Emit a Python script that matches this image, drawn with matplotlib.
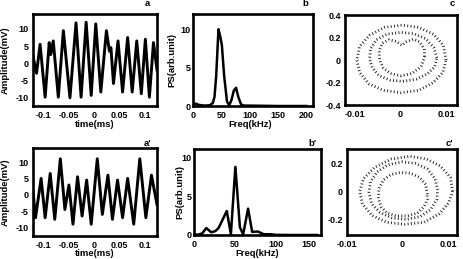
import matplotlib
matplotlib.use('Agg')
import matplotlib.pyplot as plt

# ---------------- data ----------------
# panel a: time series extrema (ms, mV)
t_a = [-0.121, -0.114, -0.107, -0.097, -0.089, -0.086, -0.081, -0.071, -0.061,
       -0.048, -0.036, -0.026, -0.016, -0.006, 0.003, 0.013, 0.024, 0.030,
       0.033, 0.038, 0.047, 0.056, 0.066, 0.075, 0.084, 0.093, 0.101, 0.109,
       0.117, 0.124]
v_a = [2, -3, 5.5, -10, 6, 2.5, 6.5, -10, 9.5,
       -10.2, 11.8, -10, 12, -9.5, 11.5, -8.5, 9.5, 3.5,
       4.5, -6, 6.5, -8.5, 7.5, -8.5, 6.5, -9, 7, -10,
       6, -2]

# panel a': time series extrema
t_a2 = [-0.121, -0.116, -0.105, -0.097, -0.087, -0.078, -0.067, -0.058, -0.050,
        -0.042, -0.033, -0.024, -0.015, -0.006, 0.006, 0.016, 0.027, 0.036,
        0.046, 0.056, 0.066, 0.078, 0.090, 0.102, 0.113, 0.124]
v_a2 = [1, -7, 5, -7, 6.5, -7.5, 11, -4.5, 3,
        -9, 5.5, -6.5, 4.5, -9, 11, -6, 6, -7.5,
        4.5, -7, 5, -9, 11, -7, 6, -3]

# panel b: power spectrum
freq_b = [0, 5, 10, 20, 30, 35, 38, 41, 45, 48, 51, 55, 60, 64, 68, 72, 76,
          80, 85, 90, 100, 150, 200]
ps_b = [0.3, 0.3, 0.15, 0.05, 0.1, 0.4, 1.2, 4.0, 10.1, 9.2, 8.0, 4.0, 0.6,
        0.1, 0.8, 2.0, 2.4, 1.2, 0.2, 0.05, 0.05, 0.0, 0.0]

# panel b': power spectrum
freq_b2 = [0, 5, 10, 15, 21, 26, 30, 35, 40, 45, 50.5, 56, 60, 66, 71, 78,
           85, 93, 100, 120, 150]
ps_b2 = [0.05, 0.05, 0.2, 0.9, 0.35, 0.5, 0.9, 2.0, 3.1, 0.1, 8.8, 1.0, 0.1,
         3.4, 0.4, 0.45, 0.1, 0.1, 0.02, 0.0, 0.0]

# panel c: phase-space loops (x, y)
c_outer_x = [0.0100, 0.0094, 0.0072, 0.0040, 0.0003, -0.0035, -0.0068, -0.0090,
             -0.0096, -0.0090, -0.0070, -0.0038, 0.0000, 0.0040, 0.0072, 0.0093, 0.0100]
c_outer_y = [0.00, 0.13, 0.23, 0.29, 0.31, 0.29, 0.22, 0.12,
             0.00, -0.11, -0.21, -0.27, -0.29, -0.27, -0.20, -0.11, 0.00]
c_mid_x = [0.0080, 0.0073, 0.0055, 0.0028, 0.0000, -0.0030, -0.0053, -0.0066,
           -0.0068, -0.0062, -0.0047, -0.0022, 0.0005, 0.0035, 0.0060, 0.0075, 0.0080]
c_mid_y = [0.02, 0.11, 0.19, 0.235, 0.245, 0.23, 0.18, 0.10,
           0.01, -0.07, -0.14, -0.18, -0.19, -0.17, -0.12, -0.06, 0.02]
c_in_x = [0.0053, 0.0052, 0.0042, 0.0028, 0.0012, 0.0003, -0.0010, -0.0025,
          -0.0040, -0.0047, -0.0046, -0.0038, -0.0022, 0.0000, 0.0025, 0.0045, 0.0053]
c_in_y = [0.03, 0.10, 0.16, 0.185, 0.16, 0.13, 0.165, 0.18,
          0.15, 0.08, 0.00, -0.07, -0.12, -0.14, -0.12, -0.06, 0.03]

# panel c': phase-space loops
c2_outer_x = [0.0092, 0.0088, 0.0070, 0.0045, 0.0015, -0.0020, -0.0050, -0.0070,
              -0.0077, -0.0072, -0.0055, -0.0028, 0.0005, 0.0040, 0.0068, 0.0085, 0.0092]
c2_outer_y = [0.00, 0.10, 0.18, 0.23, 0.25, 0.23, 0.17, 0.09,
              0.00, -0.09, -0.17, -0.22, -0.235, -0.22, -0.16, -0.08, 0.00]
c2_mid_x = [0.0065, 0.0060, 0.0046, 0.0024, 0.0000, -0.0025, -0.0045, -0.0057,
            -0.0060, -0.0055, -0.0040, -0.0018, 0.0008, 0.0033, 0.0052, 0.0063, 0.0065]
c2_mid_y = [0.01, 0.09, 0.16, 0.20, 0.21, 0.19, 0.14, 0.07,
            -0.01, -0.09, -0.15, -0.19, -0.20, -0.18, -0.13, -0.06, 0.01]
c2_in_x = [0.0046, 0.0043, 0.0032, 0.0015, -0.0003, -0.0020, -0.0034, -0.0042,
           -0.0043, -0.0038, -0.0027, -0.0010, 0.0010, 0.0028, 0.0040, 0.0046, 0.0046]
c2_in_y = [-0.02, 0.05, 0.10, 0.13, 0.135, 0.12, 0.08, 0.02,
           -0.05, -0.11, -0.155, -0.175, -0.175, -0.155, -0.11, -0.06, -0.02]

# tick labels
t_ticks = [-0.1, -0.05, 0, 0.05, 0.1]
t_ticklabels = ['-0.1', '-0.05', '0', '0.05', '0.1']
amp_ticks = [-10, -5, 0, 5, 10]
ps_ticks = [0, 5, 10]
fb_ticks = [0, 50, 100, 150, 200]
fb2_ticks = [0, 50, 100, 150]
cx_ticks = [-0.01, 0, 0.01]
cx_ticklabels = ['-0.01', '0', '0.01']
cy_ticks = [-0.4, -0.2, 0, 0.2, 0.4]
cy_ticklabels = ['-0.4', '-0.2', '0', '0.2', '0.4']
c2y_ticks = [-0.2, 0, 0.2]
c2y_ticklabels = ['-0.2', '0', '0.2']

# ---------------- style ----------------
plt.rcParams['font.family'] = ['Liberation Sans', 'DejaVu Sans']
plt.rcParams['font.weight'] = 'bold'
plt.rcParams['font.size'] = 6.5
plt.rcParams['axes.unicode_minus'] = False

W, H = 463, 259
fig = plt.figure(figsize=(W / 100, H / 100), dpi=100)


def box(l, t, r, b):
    return [l / W, 1 - b / H, (r - l) / W, (b - t) / H]


def style(ax, ypad=3.0):
    for s in ax.spines.values():
        s.set_linewidth(1.9)
        s.set_color('black')
    ax.tick_params(length=0, labelsize=6.5)
    ax.tick_params(axis='x', pad=3.5)
    ax.tick_params(axis='y', pad=ypad)


def ftext(x, y, s, **kw):
    fig.text(x / W, 1 - y / H, s, ha='center', va='center', fontsize=6.8,
             fontweight='bold', **kw)


# a
ax = fig.add_axes(box(33, 14, 157, 106))
ax.plot(t_a, v_a, color='black', lw=2.1, solid_joinstyle='round')
ax.set_xlim(-0.121, 0.124)
ax.set_ylim(-12.6, 14.4)
ax.set_xticks(t_ticks, t_ticklabels)
ax.set_yticks(amp_ticks)
style(ax)

# a'
ax = fig.add_axes(box(33, 148, 157, 236))
ax.plot(t_a2, v_a2, color='black', lw=2.1, solid_joinstyle='round')
ax.set_xlim(-0.121, 0.124)
ax.set_ylim(-12.6, 14.3)
ax.set_xticks(t_ticks, t_ticklabels)
ax.set_yticks(amp_ticks)
style(ax)

# b
ax = fig.add_axes(box(193, 14, 313, 106))
ax.plot(freq_b, ps_b, color='black', lw=1.8, solid_joinstyle='round')
ax.set_xlim(0, 212)
ax.set_ylim(0, 12.1)
ax.set_xticks(fb_ticks)
ax.set_yticks(ps_ticks)
style(ax, ypad=2.0)

# b'
ax = fig.add_axes(box(194, 149, 321, 235))
ax.plot(freq_b2, ps_b2, color='black', lw=1.8, solid_joinstyle='round')
ax.set_xlim(0, 155)
ax.set_ylim(0, 11.1)
ax.set_xticks(fb2_ticks)
ax.set_yticks(ps_ticks)
style(ax, ypad=2.0)
ax.get_xticklabels()[-1].set_horizontalalignment('right')

loop_style = dict(color='#2a2a2a', lw=2.0, linestyle=(0, (0.35, 0.85)),
                  dash_capstyle='butt')

# c
ax = fig.add_axes(box(345, 15, 457, 105))
ax.plot(c_outer_x, c_outer_y, **loop_style)
ax.plot(c_mid_x, c_mid_y, **loop_style)
ax.plot(c_in_x, c_in_y, **loop_style)
ax.set_xlim(-0.0122, 0.0124)
ax.set_ylim(-0.4, 0.4)
ax.set_xticks(cx_ticks, cx_ticklabels)
ax.set_yticks(cy_ticks, cy_ticklabels)
style(ax)

# c'
ax = fig.add_axes(box(347, 149, 457, 235))
ax.plot(c2_outer_x, c2_outer_y, **loop_style)
ax.plot(c2_mid_x, c2_mid_y, **loop_style)
ax.plot(c2_in_x, c2_in_y, **loop_style)
ax.set_xlim(-0.01, 0.01)
ax.set_ylim(-0.311, 0.302)
ax.set_xticks(cx_ticks, cx_ticklabels)
ax.set_yticks(c2y_ticks, c2y_ticklabels)
style(ax)
ax.get_xticklabels()[-1].set_horizontalalignment('right')

# axis labels
ftext(5, 60, 'Amplitude(mV)', rotation=90)
ftext(5, 192, 'Amplitude(mV)', rotation=90)
ftext(95, 125, 'time(ms)')
ftext(95, 254, 'time(ms)')
ftext(172, 60, 'PS(arb.unit)', rotation=90)
ftext(180, 192, 'PS(arb.unit)', rotation=90)
ftext(250, 125, 'Freq(kHz)')
ftext(257, 253, 'Freq(kHz)')

# panel letters
ftext(147, 4, 'a')
ftext(305, 4, 'b')
ftext(452, 4, 'c')
ftext(148, 143, "a'")
ftext(312, 143, "b'")
ftext(449, 143, "c'")

fig.savefig('out.png', dpi=100)
